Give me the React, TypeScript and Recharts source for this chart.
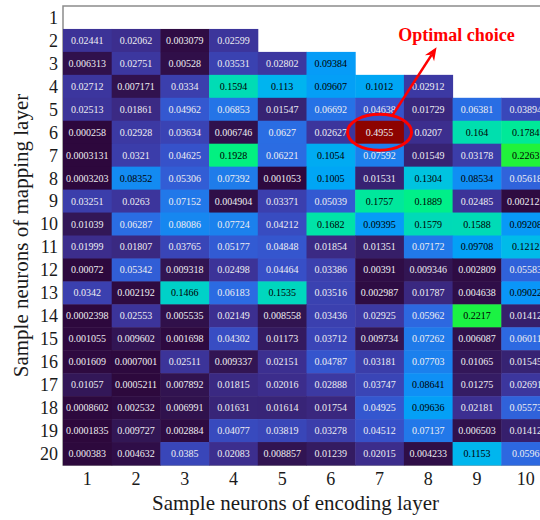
import React from 'react';
import { ScatterChart, Scatter, XAxis, YAxis, ReferenceArea, ReferenceDot, Label } from 'recharts';

// Categories
const encodingNeurons = [1, 2, 3, 4, 5, 6, 7, 8, 9, 10];
const mappingNeurons = [1, 2, 3, 4, 5, 6, 7, 8, 9, 10, 11, 12, 13, 14, 15, 16, 17, 18, 19, 20];

// Values per mapping-layer row (columns = encoding-layer neurons)
const row1: number[] = [];
const row2 = [0.02441, 0.02062, 0.003079, 0.02599];
const row3 = [0.006313, 0.02751, 0.00528, 0.03531, 0.02802, 0.09384];
const row4 = [0.02712, 0.007171, 0.0334, 0.1594, 0.113, 0.09607, 0.1012, 0.02912];
const row5 = [0.02513, 0.01861, 0.04962, 0.06853, 0.01547, 0.06692, 0.04638, 0.01729, 0.06381, 0.03894];
const row6 = [0.000258, 0.02928, 0.03634, 0.006746, 0.0627, 0.02627, 0.4955, 0.0207, 0.164, 0.1784];
const row7 = [0.0003131, 0.0321, 0.04625, 0.1928, 0.06221, 0.1054, 0.07592, 0.01549, 0.03178, 0.2263];
const row8 = [0.0003203, 0.08352, 0.05306, 0.07392, 0.001053, 0.1005, 0.01531, 0.1304, 0.08534, 0.05618];
const row9 = [0.03251, 0.0263, 0.07152, 0.004904, 0.03371, 0.05039, 0.1757, 0.1889, 0.02485, 0.002125];
const row10 = [0.01039, 0.06287, 0.08086, 0.07724, 0.04212, 0.1682, 0.09395, 0.1579, 0.1588, 0.09208];
const row11 = [0.01999, 0.01807, 0.03765, 0.05177, 0.04848, 0.01854, 0.01351, 0.07172, 0.09708, 0.1212];
const row12 = [0.00072, 0.05342, 0.009318, 0.02498, 0.04464, 0.03386, 0.00391, 0.009346, 0.002809, 0.05583];
const row13 = [0.0342, 0.002192, 0.1466, 0.06183, 0.1535, 0.03516, 0.002987, 0.01787, 0.004638, 0.09022];
const row14 = [0.0002398, 0.02553, 0.005535, 0.02149, 0.008558, 0.03436, 0.02925, 0.05962, 0.2217, 0.01412];
const row15 = [0.001055, 0.009602, 0.001698, 0.04302, 0.01173, 0.03712, 0.009734, 0.07262, 0.006087, 0.06011];
const row16 = [0.001609, 0.0007001, 0.02511, 0.009337, 0.02151, 0.04787, 0.03181, 0.07703, 0.01065, 0.01545];
const row17 = [0.01057, 0.0005211, 0.007892, 0.01815, 0.02016, 0.02888, 0.03747, 0.08641, 0.01275, 0.02691];
const row18 = [0.0008602, 0.002532, 0.006991, 0.01631, 0.01614, 0.01754, 0.04925, 0.09636, 0.02181, 0.05573];
const row19 = [0.0001835, 0.009727, 0.002884, 0.04077, 0.03819, 0.03278, 0.04512, 0.07137, 0.006503, 0.01412];
const row20 = [0.000383, 0.004632, 0.0385, 0.02083, 0.008857, 0.01239, 0.02015, 0.004233, 0.1153, 0.0596];

const rows = [row1, row2, row3, row4, row5, row6, row7, row8, row9, row10,
  row11, row12, row13, row14, row15, row16, row17, row18, row19, row20];

const optimalChoice = { encoding: 7, mapping: 6, label: 'Optimal choice' };

const cells = rows.flatMap((r, i) =>
  r.map((v, j) => ({ x: encodingNeurons[j], y: mappingNeurons[i], v }))
);

// Layout
const CHART_W = 560;
const CHART_H = 520;
const Y_AXIS_W = 63;
const X_AXIS_H = 55;
const MARGIN = { top: 6, right: 10, bottom: 0, left: 0 };
const CELL_W = (CHART_W - Y_AXIS_W - MARGIN.right) / encodingNeurons.length;
const CELL_H = (CHART_H - X_AXIS_H - MARGIN.top) / mappingNeurons.length;

const SERIF = '"Liberation Serif", "DejaVu Serif", serif';

// colour scale
const stops: [number, number[]][] = [
  [0, [45, 8, 60]],
  [0.01, [50, 22, 85]],
  [0.02, [60, 45, 140]],
  [0.03, [60, 58, 165]],
  [0.045, [55, 80, 200]],
  [0.06, [45, 105, 225]],
  [0.075, [30, 125, 235]],
  [0.09, [10, 150, 248]],
  [0.1, [0, 165, 245]],
  [0.115, [0, 182, 238]],
  [0.13, [0, 195, 225]],
  [0.15, [0, 212, 195]],
  [0.17, [0, 228, 165]],
  [0.19, [0, 240, 135]],
  [0.225, [30, 242, 60]],
  [0.3, [200, 240, 0]],
  [0.35, [255, 200, 0]],
  [0.42, [240, 60, 0]],
  [0.5, [135, 0, 0]],
];

function colorFor(v: number): string {
  for (let i = 0; i < stops.length - 1; i++) {
    const [a, ca] = stops[i];
    const [b, cb] = stops[i + 1];
    if (v <= b) {
      const t = Math.max(0, (v - a) / (b - a));
      const c = ca.map((x, k) => Math.round(x + (cb[k] - x) * t));
      return `rgb(${c[0]},${c[1]},${c[2]})`;
    }
  }
  const c = stops[stops.length - 1][1];
  return `rgb(${c[0]},${c[1]},${c[2]})`;
}

function textColorFor(v: number): string {
  return v >= 0.082 && v < 0.3 ? '#000000' : '#eeeef2';
}

const CellShape = (props: any) => {
  const { cx, cy, payload } = props;
  if (cx == null || cy == null) return null;
  return (
    <g>
      <rect x={cx - CELL_W / 2} y={cy - CELL_H / 2} width={CELL_W + 0.5} height={CELL_H + 0.5} fill={colorFor(payload.v)} />
      <text x={cx} y={cy} textAnchor="middle" dominantBaseline="central" fontSize={10} fontFamily={SERIF} fill={textColorFor(payload.v)}>
        {String(payload.v)}
      </text>
    </g>
  );
};

const OptimalMark = (props: any) => {
  const { cx, cy } = props;
  if (cx == null || cy == null) return null;
  const sx = cx + 13, sy = cy - 17;
  const tx = cx + 57, ty = cy - 85;
  const ang = Math.atan2(ty - sy, tx - sx);
  const L = 13, Wd = 5.5;
  const bx = tx - L * Math.cos(ang), by = ty - L * Math.sin(ang);
  const nx = -Math.sin(ang), ny = Math.cos(ang);
  const ix = tx - (L * 0.7) * Math.cos(ang), iy = ty - (L * 0.7) * Math.sin(ang);
  return (
    <g>
      <ellipse cx={cx} cy={cy} rx={32} ry={18} fill="none" stroke="#ff0000" strokeWidth={3} />
      <line x1={sx} y1={sy} x2={ix} y2={iy} stroke="#ff0000" strokeWidth={2.5} />
      <polygon points={`${tx},${ty} ${bx + nx * Wd},${by + ny * Wd} ${ix},${iy} ${bx - nx * Wd},${by - ny * Wd}`} fill="#ff0000" />
      <text x={cx + 77} y={cy - 91} textAnchor="middle" fontSize={18} fontWeight="bold" fontFamily={SERIF} fill="#ff0000">
        {optimalChoice.label}
      </text>
    </g>
  );
};

const XTitle = (props: any) => {
  const vb = props.viewBox || {};
  return (
    <text x={vb.x + vb.width / 2 - 11} y={vb.y + 45} textAnchor="middle" fontSize={21} fontFamily={SERIF} fill="#1a1a1a">
      Sample neurons of encoding layer
    </text>
  );
};

const YTitle = (props: any) => {
  const vb = props.viewBox || {};
  const x = 28;
  const y = vb.y + vb.height / 2;
  return (
    <text x={x} y={y} transform={`rotate(-90 ${x} ${y})`} textAnchor="middle" fontSize={21} fontFamily={SERIF} fill="#1a1a1a">
      Sample neurons of mapping layer
    </text>
  );
};

export default function App() {
  return (
    <div style={{ position: 'absolute', left: 0, top: 0, width: 540, height: 520, overflow: 'hidden', background: '#ffffff' }}>
      <ScatterChart width={CHART_W} height={CHART_H} margin={MARGIN}>
        <XAxis
          type="number"
          dataKey="x"
          domain={[0.5, 10.5]}
          ticks={encodingNeurons}
          interval={0}
          height={X_AXIS_H}
          tickLine={false}
          axisLine={false}
          tickSize={0}
          tickMargin={7}
          tick={{ fontSize: 18, fontFamily: SERIF, fill: '#1a1a1a' }}
        >
          <Label content={<XTitle />} />
        </XAxis>
        <YAxis
          type="number"
          dataKey="y"
          domain={[0.5, 20.5]}
          reversed
          ticks={mappingNeurons}
          interval={0}
          width={Y_AXIS_W}
          tickLine={false}
          axisLine={false}
          tickSize={0}
          tickMargin={5}
          tick={{ fontSize: 18, fontFamily: SERIF, fill: '#1a1a1a' }}
        >
          <Label content={<YTitle />} />
        </YAxis>
        <Scatter data={cells} shape={<CellShape />} isAnimationActive={false} />
        <ReferenceArea x1={0.5} x2={10.5} y1={0.5} y2={20.5} fill="none" stroke="#8c8c8c" strokeWidth={1.5} ifOverflow="visible" />
        <ReferenceDot x={optimalChoice.encoding} y={optimalChoice.mapping} ifOverflow="visible" shape={<OptimalMark />} />
      </ScatterChart>
    </div>
  );
}
